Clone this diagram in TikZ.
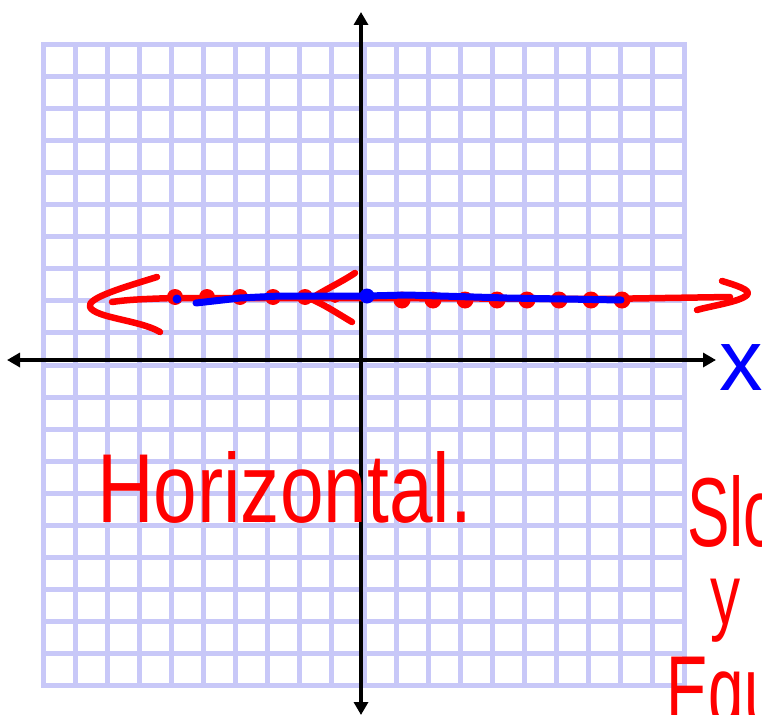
\documentclass[tikz,border=0pt]{standalone}
\usepackage{fontspec}
\usepackage{graphicx}
\setmainfont{Liberation Sans}
\usetikzlibrary{arrows.meta}
\definecolor{gridc}{RGB}{200,200,248}
\definecolor{penred}{RGB}{255,0,0}
\definecolor{penblue}{RGB}{0,0,255}
\begin{document}
\begin{tikzpicture}[x=1pt,y=-1pt,
  gridline/.style={draw=gridc,line width=5pt,line cap=rect},
  axisline/.style={draw=black,line width=4.5pt,{Triangle[length=13pt,width=14pt]}-{Triangle[length=13pt,width=14pt]}},
  redpen/.style={draw=penred,line width=6.5pt,line cap=round,line join=round},
  bluepen/.style={draw=penblue,line width=7pt,line cap=round,line join=round},
  reddot/.style={circle,fill=penred,inner sep=0pt,minimum size=17pt},
  bluedot/.style={circle,fill=penblue,inner sep=0pt,minimum size=15pt},
  hand/.style={inner sep=0pt,anchor=base west,font=\fontsize{98}{98}\selectfont},
]
\useasboundingbox (0,0) rectangle (762,714);
\clip (0,0) rectangle (762,714);
\fill[white] (0,0) rectangle (762,714);
% grid
\foreach \k in {0,...,20}{
  \draw[gridline] ({43.5+32.05*\k},44.5) -- ({43.5+32.05*\k},685.5);
  \draw[gridline] (43.5,{44.5+32.05*\k}) -- (684.5,{44.5+32.05*\k});
}
% axes
\coordinate (xl) at (7,360);
\coordinate (xr) at (716,360);
\coordinate (yt) at (361,12);
\coordinate (yb) at (361,715);
\draw[axisline] (xl) -- (xr);
\draw[axisline] (yt) -- (yb);
% red line with arrows
\coordinate (rs) at (112,302);
\coordinate (re) at (730,297);
\draw[redpen] (rs) .. controls (125,300) and (140,299) .. (175,298) -- (360,298) -- (600,299) -- (re);
\draw[redpen] (157,277) .. controls (125,287) and (86,298) .. (90,307) .. controls (95,318) and (140,320) .. (160,332);
\draw[redpen] (355,273) .. controls (340,283) and (320,292) .. (311,299) .. controls (325,305) and (340,315) .. (352,322);
\draw[redpen] (722,281) .. controls (735,285) and (752,290) .. (747,295) .. controls (740,302) and (710,306) .. (697,310);
% red dots
\foreach \x [count=\i] in {175,207,240,273,305}{
  \node[reddot,minimum size=16pt] (ra\i) at (\x,297) {};
}
\node[reddot,minimum size=10pt] (ra6) at (335,298) {};
\foreach \x [count=\i] in {402,433,465,497,527,559,591,622}{
  \node[reddot] (rb\i) at (\x,300) {};
}
% blue line
\node[bluedot] (b0) at (367,296) {};
\node[bluedot,minimum size=9pt] (b1) at (177,299) {};
\coordinate (bs) at (196,303);
\coordinate (be) at (621,300);
\draw[bluepen] (bs) -- (240,298) -- (280,296) -- (b0.center) -- (407,295) -- (507,298) -- (be);
% texts
\node[hand,text=penred] (horiz) at (97,522) {\scalebox{0.8}[1]{Horizontal.}};
\node[hand,text=penred,text depth=0pt] (slo) at (687,546) {\scalebox{0.65}[1]{Slo}};
\node[hand,text=penred,text height=45pt,font=\fontsize{86}{86}\selectfont] (yy) at (710,624) {\scalebox{0.7}[1]{y}};
\node[hand,text=penred] (equ) at (666,724) {\scalebox{0.65}[1]{Equ}};
\node[hand,text=penblue,font=\fontsize{87}{87}\selectfont] (xlab) at (719,390) {x};
\end{tikzpicture}
\end{document}
